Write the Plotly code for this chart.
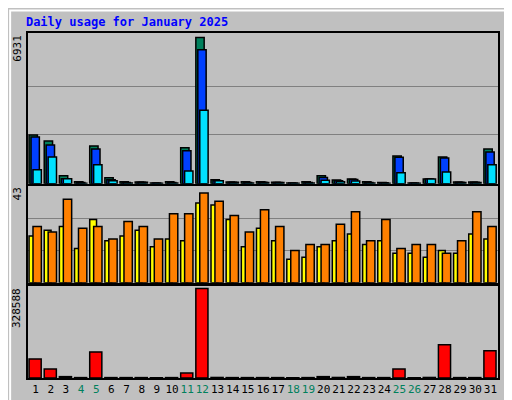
import plotly.graph_objects as go
from plotly.subplots import make_subplots

days = list(range(1, 32))
weekend = [4, 5, 11, 12, 18, 19, 25, 26]

hits = [2310, 2030, 380, 100, 1790, 280, 90, 80, 40, 90, 1700, 6931, 190, 80, 90, 90,
        70, 40, 90, 380, 180, 230, 90, 60, 1320, 40, 220, 1270, 80, 80, 1650]
files = [2210, 1840, 235, 60, 1650, 190, 60, 70, 40, 60, 1560, 6350, 140, 70, 60, 70,
         60, 40, 60, 300, 140, 200, 60, 50, 1250, 40, 220, 1220, 70, 70, 1500]
pages = [660, 1270, 235, 30, 900, 140, 40, 70, 30, 40, 610, 3480, 140, 70, 40, 60,
         60, 30, 40, 170, 100, 130, 40, 30, 520, 30, 220, 560, 60, 60, 900]
sites = [22.4, 25.2, 27, 16.4, 30.3, 20.1, 22.4, 25.2, 17.3, 21, 20.1, 38.2, 37.3, 30.3, 17.3, 26.1,
         20.1, 11.3, 12.2, 17.3, 20.1, 23.4, 18.3, 20.1, 14.1, 14.1, 12.2, 15.5, 14.1, 23.4, 21]
visits = [27, 24.3, 40, 26.1, 27, 21, 29.4, 27, 21, 33.1, 33.1, 43, 39.1, 32.2, 24.3, 35,
          27, 15.5, 18.3, 18.3, 28, 34, 20.1, 30.3, 16.4, 18.3, 18.3, 14.1, 20.1, 34, 27]
kbytes = [70000, 33000, 5000, 1500, 96000, 1500, 1500, 1500, 1000, 1500, 18000, 328588, 2000, 1500, 1500, 1500,
          1500, 1000, 1500, 5000, 2000, 5000, 1500, 1500, 33000, 1000, 2000, 122000, 1500, 1500, 100000]

fig = make_subplots(rows=3, cols=1, shared_xaxes=True, vertical_spacing=0.0)

line = dict(color='black', width=1.5)
fig.add_trace(go.Bar(x=days, y=hits, width=0.55, offset=-0.43, marker=dict(color='#00805c', line=line)), row=1, col=1)
fig.add_trace(go.Bar(x=days, y=files, width=0.55, offset=-0.3, marker=dict(color='#0040ff', line=line)), row=1, col=1)
fig.add_trace(go.Bar(x=days, y=pages, width=0.55, offset=-0.17, marker=dict(color='#00e0ff', line=line)), row=1, col=1)
fig.add_trace(go.Bar(x=days, y=sites, width=0.45, offset=-0.43, marker=dict(color='#ffff00', line=line)), row=2, col=1)
fig.add_trace(go.Bar(x=days, y=visits, width=0.55, offset=-0.17, marker=dict(color='#ff8000', line=line)), row=2, col=1)
fig.add_trace(go.Bar(x=days, y=kbytes, width=0.8, offset=-0.43, marker=dict(color='#ff0000', line=line)), row=3, col=1)

ticktext = [f'<span style="color:{"#00805c" if d in weekend else "black"}">{d}</span>' for d in days]

fig.update_layout(
    width=512, height=400, barmode='overlay', showlegend=False,
    paper_bgcolor='#c0c0c0', plot_bgcolor='#c0c0c0',
    margin=dict(l=20, r=22, t=25, b=27),
    font=dict(family='DejaVu Sans Mono', size=11, color='black'),
    yaxis=dict(domain=[0.563, 1.0], range=[0, 6931 * 1.03]),
    yaxis2=dict(domain=[0.276, 0.557], range=[0, 43 * 1.08]),
    yaxis3=dict(domain=[0.0, 0.267], range=[0, 328588 * 1.03]),
    title=dict(text='<b>Daily usage for January 2025</b>', x=0.035, y=0.975, xanchor='left',
               font=dict(family='DejaVu Sans Mono', size=12, color='#0000ff')),
)
for i in (1, 2, 3):
    fig.update_yaxes(row=i, col=1, showticklabels=False, showline=True, mirror=True,
                     linecolor='black', linewidth=1.5, zeroline=False, ticks='')
fig.update_yaxes(row=1, col=1, tickvals=[6931 / 3, 6931 * 2 / 3], showgrid=True, gridcolor='#808080')
fig.update_yaxes(row=2, col=1, tickvals=[43 / 3 * 1.08, 43 * 2 / 3 * 1.08], showgrid=True, gridcolor='#808080')
fig.update_yaxes(row=3, col=1, showgrid=False)
fig.update_xaxes(range=[0.5, 31.5], showgrid=False, showline=True, mirror=True,
                 linecolor='black', linewidth=1.5, ticks='')
fig.update_xaxes(row=3, col=1, tickvals=days, ticktext=ticktext, tickangle=0, tickfont=dict(size=11))

# max value labels on the left
for text, yp in [('6931', 1.0), ('43', 0.557), ('328588', 0.267)]:
    fig.add_annotation(text=text, xref='paper', yref='paper', x=-0.005, y=yp, xanchor='right',
                       yanchor='top', textangle=-90, showarrow=False, font=dict(size=11))

# series labels on the right, reading bottom to top
labels = [
    ('<span style="color:#00e0ff">Pages</span> / <span style="color:#0040ff">Files</span> / '
     '<span style="color:#00805c">Hits</span>', 0.78),
    ('<span style="color:#ff8000">Sites</span> / <span style="color:#ffff00">Visits</span>', 0.415),
    ('<span style="color:#ff0000">KBytes</span>', 0.13),
]
for text, yp in labels:
    fig.add_annotation(text=text, xref='paper', yref='paper', x=1.0, xshift=3, y=yp, xanchor='left',
                       yanchor='middle', textangle=-90, showarrow=False, font=dict(size=11))

# outer frame
fig.add_shape(type='rect', xref='paper', yref='paper', x0=-0.038, x1=1.04, y0=-0.072, y1=1.065,
              line=dict(color='white', width=2))

fig.write_html('out.html')
